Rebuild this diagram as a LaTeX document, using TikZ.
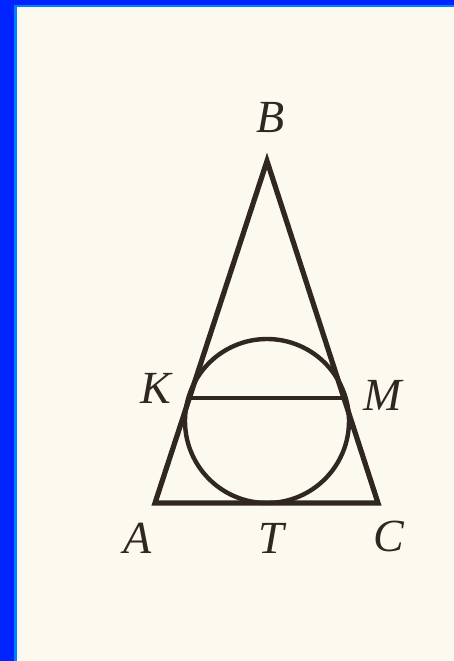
\documentclass[tikz,border=0pt]{standalone}
\usepackage{tikz}
\usepackage{xcolor}
\usepackage{fontspec}
\usetikzlibrary{calc}

\newfontfamily\labelfont{Liberation Serif}

\definecolor{framebl}{RGB}{0,36,255}
\definecolor{frameli}{RGB}{0,128,255}
\definecolor{paper}{RGB}{252,250,238}
\definecolor{ink}{RGB}{48,38,34}

\tikzset{
    side/.style={ink,line width=5.2pt,line join=miter},
    chord/.style={ink,line width=3.8pt},
    ptlabel/.style={ink,inner sep=0pt,font=\labelfont\itshape\fontsize{46}{52}\selectfont}
}

\begin{document}
\begin{tikzpicture}[x=1pt,y=-1pt]

    % page and blue frame
    \fill[framebl] (0,0) rectangle (454,661);
    \fill[frameli] (14,5) rectangle (454,661);
    \fill[paper] (17,7) rectangle (454,661);
    \useasboundingbox (0,0) rectangle (454,661);

    % points
    \coordinate (A) at (155,503);
    \coordinate (B) at (267,161);
    \coordinate (C) at (378,503);
    \coordinate (T) at (267,503);
    \coordinate (O) at (267,421);
    \coordinate (K) at (190,398);
    \coordinate (M) at (344,398);

    % triangle, circle and chord
    \draw[ink,line width=4.4pt] (O) circle (82);
    \draw[chord] (K) -- (M);
    \draw[side] (A) -- (B) -- (C) -- cycle;

    % labels
    \node[ptlabel] (labB) at (271,118) {B};
    \node[ptlabel] (labK) at (156,388) {K};
    \node[ptlabel] (labM) at (383,395) {M};
    \node[ptlabel] (labA) at (138,538) {A};
    \node[ptlabel] (labT) at (271,538) {T};
    \node[ptlabel] (labC) at (389,536) {C};

\end{tikzpicture}
\end{document}
